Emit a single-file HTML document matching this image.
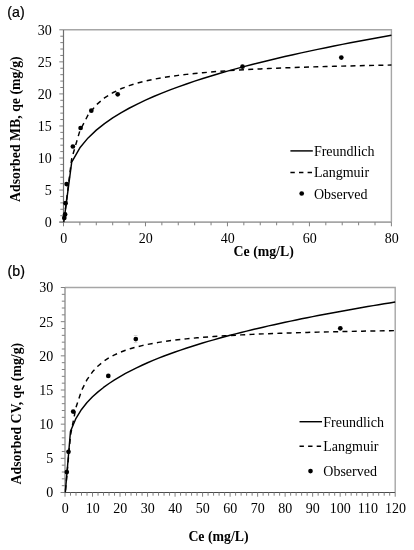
<!DOCTYPE html>
<html><head><meta charset="utf-8"><style>
html,body{margin:0;padding:0;background:#fff;}
body{width:414px;height:550px;overflow:hidden;}
svg{display:block;filter:grayscale(1);}
.tl{font-family:"Liberation Serif",serif;font-size:14px;fill:#000;}
.tt{font-family:"Liberation Serif",serif;font-size:13.8px;font-weight:bold;fill:#000;}
.pl{font-family:"Liberation Sans",sans-serif;font-size:14.2px;fill:#000;stroke:#000;stroke-width:0.22px;}
</style></head><body>
<svg width="414" height="550" viewBox="0 0 414 550">
<rect width="414" height="550" fill="#fff"/>
<path d="M63.50,29.80H391.40V222.10" fill="none" stroke="#a6a6a6" stroke-width="1.4"/>
<path d="M59.30,222.10H391.40" fill="none" stroke="#a6a6a6" stroke-width="1.6"/>
<path d="M59.30,222.10H63.50M60.30,215.69H63.50M60.30,209.28H63.50M60.30,202.87H63.50M60.30,196.46H63.50M59.30,190.05H63.50M60.30,183.64H63.50M60.30,177.23H63.50M60.30,170.82H63.50M60.30,164.41H63.50M59.30,158.00H63.50M60.30,151.59H63.50M60.30,145.18H63.50M60.30,138.77H63.50M60.30,132.36H63.50M59.30,125.95H63.50M60.30,119.54H63.50M60.30,113.13H63.50M60.30,106.72H63.50M60.30,100.31H63.50M59.30,93.90H63.50M60.30,87.49H63.50M60.30,81.08H63.50M60.30,74.67H63.50M60.30,68.26H63.50M59.30,61.85H63.50M60.30,55.44H63.50M60.30,49.03H63.50M60.30,42.62H63.50M60.30,36.21H63.50M59.30,29.80H63.50" fill="none" stroke="#808080" stroke-width="1"/>
<path d="M63.50,222.10V226.30M79.89,222.10V225.30M96.29,222.10V225.30M112.69,222.10V225.30M129.08,222.10V225.30M145.47,222.10V226.30M161.87,222.10V225.30M178.26,222.10V225.30M194.66,222.10V225.30M211.06,222.10V225.30M227.45,222.10V226.30M243.84,222.10V225.30M260.24,222.10V225.30M276.63,222.10V225.30M293.03,222.10V225.30M309.43,222.10V226.30M325.82,222.10V225.30M342.21,222.10V225.30M358.61,222.10V225.30M375.00,222.10V225.30M391.40,222.10V226.30" fill="none" stroke="#808080" stroke-width="1"/>
<path d="M63.50,29.80V222.60" fill="none" stroke="#6e6e6e" stroke-width="1.2"/>
<text x="51.80" y="227.00" class="tl" text-anchor="end">0</text>
<text x="51.80" y="194.95" class="tl" text-anchor="end">5</text>
<text x="51.80" y="162.90" class="tl" text-anchor="end">10</text>
<text x="51.80" y="130.85" class="tl" text-anchor="end">15</text>
<text x="51.80" y="98.80" class="tl" text-anchor="end">20</text>
<text x="51.80" y="66.75" class="tl" text-anchor="end">25</text>
<text x="51.80" y="34.70" class="tl" text-anchor="end">30</text>
<text x="63.80" y="242.60" class="tl" text-anchor="middle">0</text>
<text x="145.78" y="242.60" class="tl" text-anchor="middle">20</text>
<text x="227.75" y="242.60" class="tl" text-anchor="middle">40</text>
<text x="309.73" y="242.60" class="tl" text-anchor="middle">60</text>
<text x="391.70" y="242.60" class="tl" text-anchor="middle">80</text>
<path d="M63.80,222.10 L71.70,162.06 L79.89,147.78 L88.09,137.91 L96.29,130.11 L104.49,123.58 L112.69,117.89 L120.88,112.83 L129.08,108.25 L137.28,104.04 L145.47,100.15 L153.67,96.53 L161.87,93.12 L170.07,89.90 L178.26,86.85 L186.46,83.95 L194.66,81.18 L202.86,78.53 L211.06,75.98 L219.25,73.53 L227.45,71.16 L235.65,68.88 L243.84,66.67 L252.04,64.53 L260.24,62.45 L268.44,60.44 L276.63,58.47 L284.83,56.56 L293.03,54.70 L301.23,52.88 L309.43,51.11 L317.62,49.37 L325.82,47.68 L334.02,46.02 L342.21,44.39 L350.41,42.80 L358.61,41.24 L366.81,39.71 L375.00,38.21 L383.20,36.73 L391.40,35.28" fill="none" stroke="#000" stroke-width="1.45" stroke-linejoin="round"/>
<path d="M63.80,222.10 L71.70,158.58 L79.89,130.66 L88.09,114.95 L96.29,104.89 L104.49,97.89 L112.69,92.74 L120.88,88.79 L129.08,85.67 L137.28,83.13 L145.47,81.04 L153.67,79.28 L161.87,77.78 L170.07,76.48 L178.26,75.35 L186.46,74.36 L194.66,73.48 L202.86,72.69 L211.06,71.99 L219.25,71.35 L227.45,70.78 L235.65,70.25 L243.84,69.77 L252.04,69.33 L260.24,68.92 L268.44,68.54 L276.63,68.19 L284.83,67.87 L293.03,67.56 L301.23,67.28 L309.43,67.01 L317.62,66.77 L325.82,66.53 L334.02,66.31 L342.21,66.10 L350.41,65.91 L358.61,65.72 L366.81,65.54 L375.00,65.37 L383.20,65.21 L391.40,65.06" fill="none" stroke="#000" stroke-width="1.45" stroke-dasharray="5.0,4.3" stroke-dashoffset="5.6" stroke-linejoin="round"/>
<circle cx="64.30" cy="217.90" r="2.35" fill="#000"/>
<circle cx="65.10" cy="214.40" r="2.35" fill="#000"/>
<circle cx="65.60" cy="203.20" r="2.35" fill="#000"/>
<circle cx="66.60" cy="184.10" r="2.35" fill="#000"/>
<circle cx="72.90" cy="146.50" r="2.35" fill="#000"/>
<circle cx="80.60" cy="128.00" r="2.35" fill="#000"/>
<circle cx="91.30" cy="110.70" r="2.35" fill="#000"/>
<circle cx="117.70" cy="94.30" r="2.35" fill="#000"/>
<circle cx="242.50" cy="66.70" r="2.35" fill="#000"/>
<circle cx="341.30" cy="57.60" r="2.35" fill="#000"/>
<text transform="translate(20.40,129.10) rotate(-90)" class="tt" text-anchor="middle">Adsorbed MB, qe (mg/g)</text>
<text x="233.60" y="256.20" class="tt">Ce (mg/L)</text>
<text x="7.30" y="16.50" class="pl">(a)</text>
<path d="M290.40,150.90H312.80" stroke="#000" stroke-width="1.45"/>
<path d="M290.40,172.40H312.80" stroke="#000" stroke-width="1.45" stroke-dasharray="4.4,4.2"/>
<circle cx="301.70" cy="193.50" r="2.35" fill="#000"/>
<text x="313.90" y="155.90" class="tl">Freundlich</text>
<text x="313.90" y="177.40" class="tl">Langmuir</text>
<text x="313.90" y="198.60" class="tl">Observed</text>
<path d="M65.00,287.50H395.20V492.50" fill="none" stroke="#a6a6a6" stroke-width="1.4"/>
<path d="M60.80,492.50H395.20" fill="none" stroke="#4a4a4a" stroke-width="1.0"/>
<path d="M60.80,492.50H65.00M61.80,485.67H65.00M61.80,478.83H65.00M61.80,472.00H65.00M61.80,465.17H65.00M60.80,458.33H65.00M61.80,451.50H65.00M61.80,444.67H65.00M61.80,437.83H65.00M61.80,431.00H65.00M60.80,424.17H65.00M61.80,417.33H65.00M61.80,410.50H65.00M61.80,403.67H65.00M61.80,396.83H65.00M60.80,390.00H65.00M61.80,383.17H65.00M61.80,376.33H65.00M61.80,369.50H65.00M61.80,362.67H65.00M60.80,355.83H65.00M61.80,349.00H65.00M61.80,342.17H65.00M61.80,335.33H65.00M61.80,328.50H65.00M60.80,321.67H65.00M61.80,314.83H65.00M61.80,308.00H65.00M61.80,301.17H65.00M61.80,294.33H65.00M60.80,287.50H65.00" fill="none" stroke="#808080" stroke-width="1"/>
<path d="M65.00,492.50V496.70M70.50,492.50V495.70M76.01,492.50V495.70M81.51,492.50V495.70M87.01,492.50V495.70M92.52,492.50V496.70M98.02,492.50V495.70M103.52,492.50V495.70M109.03,492.50V495.70M114.53,492.50V495.70M120.03,492.50V496.70M125.54,492.50V495.70M131.04,492.50V495.70M136.54,492.50V495.70M142.05,492.50V495.70M147.55,492.50V496.70M153.05,492.50V495.70M158.56,492.50V495.70M164.06,492.50V495.70M169.56,492.50V495.70M175.07,492.50V496.70M180.57,492.50V495.70M186.07,492.50V495.70M191.58,492.50V495.70M197.08,492.50V495.70M202.58,492.50V496.70M208.09,492.50V495.70M213.59,492.50V495.70M219.09,492.50V495.70M224.60,492.50V495.70M230.10,492.50V496.70M235.60,492.50V495.70M241.11,492.50V495.70M246.61,492.50V495.70M252.11,492.50V495.70M257.62,492.50V496.70M263.12,492.50V495.70M268.62,492.50V495.70M274.13,492.50V495.70M279.63,492.50V495.70M285.13,492.50V496.70M290.64,492.50V495.70M296.14,492.50V495.70M301.64,492.50V495.70M307.15,492.50V495.70M312.65,492.50V496.70M318.15,492.50V495.70M323.66,492.50V495.70M329.16,492.50V495.70M334.66,492.50V495.70M340.17,492.50V496.70M345.67,492.50V495.70M351.17,492.50V495.70M356.68,492.50V495.70M362.18,492.50V495.70M367.68,492.50V496.70M373.19,492.50V495.70M378.69,492.50V495.70M384.19,492.50V495.70M389.70,492.50V495.70M395.20,492.50V496.70" fill="none" stroke="#808080" stroke-width="1"/>
<path d="M65.00,287.50V493.00" fill="none" stroke="#8a8a8a" stroke-width="1.3"/>
<text x="53.30" y="497.40" class="tl" text-anchor="end">0</text>
<text x="53.30" y="463.23" class="tl" text-anchor="end">5</text>
<text x="53.30" y="429.07" class="tl" text-anchor="end">10</text>
<text x="53.30" y="394.90" class="tl" text-anchor="end">15</text>
<text x="53.30" y="360.73" class="tl" text-anchor="end">20</text>
<text x="53.30" y="326.57" class="tl" text-anchor="end">25</text>
<text x="53.30" y="292.40" class="tl" text-anchor="end">30</text>
<text x="65.20" y="512.70" class="tl" text-anchor="middle">0</text>
<text x="92.72" y="512.70" class="tl" text-anchor="middle">10</text>
<text x="120.23" y="512.70" class="tl" text-anchor="middle">20</text>
<text x="147.75" y="512.70" class="tl" text-anchor="middle">30</text>
<text x="175.27" y="512.70" class="tl" text-anchor="middle">40</text>
<text x="202.78" y="512.70" class="tl" text-anchor="middle">50</text>
<text x="230.30" y="512.70" class="tl" text-anchor="middle">60</text>
<text x="257.82" y="512.70" class="tl" text-anchor="middle">70</text>
<text x="285.33" y="512.70" class="tl" text-anchor="middle">80</text>
<text x="312.85" y="512.70" class="tl" text-anchor="middle">90</text>
<text x="340.37" y="512.70" class="tl" text-anchor="middle">100</text>
<text x="367.88" y="512.70" class="tl" text-anchor="middle">110</text>
<text x="395.40" y="512.70" class="tl" text-anchor="middle">120</text>
<path d="M65.30,492.50 L70.50,431.23 L76.01,418.26 L81.51,409.44 L87.01,402.55 L92.52,396.81 L98.02,391.85 L103.52,387.46 L109.03,383.51 L114.53,379.89 L120.03,376.56 L125.54,373.45 L131.04,370.55 L136.54,367.82 L142.05,365.23 L147.55,362.77 L153.05,360.43 L158.56,358.20 L164.06,356.05 L169.56,354.00 L175.07,352.01 L180.57,350.10 L186.07,348.26 L191.58,346.47 L197.08,344.74 L202.58,343.06 L208.09,341.42 L213.59,339.84 L219.09,338.29 L224.60,336.78 L230.10,335.31 L235.60,333.88 L241.11,332.48 L246.61,331.11 L252.11,329.77 L257.62,328.46 L263.12,327.17 L268.62,325.91 L274.13,324.68 L279.63,323.47 L285.13,322.28 L290.64,321.11 L296.14,319.96 L301.64,318.83 L307.15,317.72 L312.65,316.63 L318.15,315.56 L323.66,314.50 L329.16,313.46 L334.66,312.43 L340.17,311.42 L345.67,310.43 L351.17,309.44 L356.68,308.48 L362.18,307.52 L367.68,306.58 L373.19,305.65 L378.69,304.73 L384.19,303.82 L389.70,302.93 L395.20,302.04" fill="none" stroke="#000" stroke-width="1.45" stroke-linejoin="round"/>
<path d="M65.30,492.50 L70.50,435.34 L76.01,407.32 L81.51,390.69 L87.01,379.67 L92.52,371.83 L98.02,365.98 L103.52,361.43 L109.03,357.80 L114.53,354.84 L120.03,352.37 L125.54,350.29 L131.04,348.50 L136.54,346.96 L142.05,345.60 L147.55,344.41 L153.05,343.35 L158.56,342.40 L164.06,341.55 L169.56,340.78 L175.07,340.08 L180.57,339.44 L186.07,338.86 L191.58,338.32 L197.08,337.82 L202.58,337.36 L208.09,336.93 L213.59,336.53 L219.09,336.16 L224.60,335.82 L230.10,335.49 L235.60,335.18 L241.11,334.90 L246.61,334.63 L252.11,334.37 L257.62,334.13 L263.12,333.90 L268.62,333.68 L274.13,333.47 L279.63,333.28 L285.13,333.09 L290.64,332.91 L296.14,332.74 L301.64,332.58 L307.15,332.42 L312.65,332.27 L318.15,332.13 L323.66,331.99 L329.16,331.86 L334.66,331.73 L340.17,331.61 L345.67,331.50 L351.17,331.38 L356.68,331.27 L362.18,331.17 L367.68,331.07 L373.19,330.97 L378.69,330.88 L384.19,330.79 L389.70,330.70 L395.20,330.61" fill="none" stroke="#000" stroke-width="1.45" stroke-dasharray="5.0,4.3" stroke-dashoffset="6.99" stroke-linejoin="round"/>
<circle cx="66.80" cy="472.10" r="2.35" fill="#000"/>
<circle cx="68.50" cy="451.80" r="2.35" fill="#000"/>
<circle cx="73.20" cy="411.60" r="2.35" fill="#000"/>
<circle cx="108.30" cy="375.90" r="2.35" fill="#000"/>
<circle cx="135.80" cy="339.10" r="2.35" fill="#000"/>
<circle cx="340.30" cy="328.30" r="2.35" fill="#000"/>
<path d="M133.80,335.50H137.40M133.80,342.60H137.40" stroke="#d4d4d4" stroke-width="1"/>
<text transform="translate(21.00,413.60) rotate(-90)" class="tt" text-anchor="middle">Adsorbed CV, qe (mg/g)</text>
<text x="188.40" y="541.00" class="tt">Ce (mg/L)</text>
<text x="7.60" y="275.60" class="pl">(b)</text>
<path d="M299.50,421.70H322.00" stroke="#000" stroke-width="1.45"/>
<path d="M299.50,446.30H322.00" stroke="#000" stroke-width="1.45" stroke-dasharray="4.4,4.2"/>
<circle cx="310.50" cy="471.10" r="2.35" fill="#000"/>
<text x="323.30" y="426.90" class="tl">Freundlich</text>
<text x="323.30" y="451.20" class="tl">Langmuir</text>
<text x="323.30" y="476.00" class="tl">Observed</text>
</svg>
</body></html>
